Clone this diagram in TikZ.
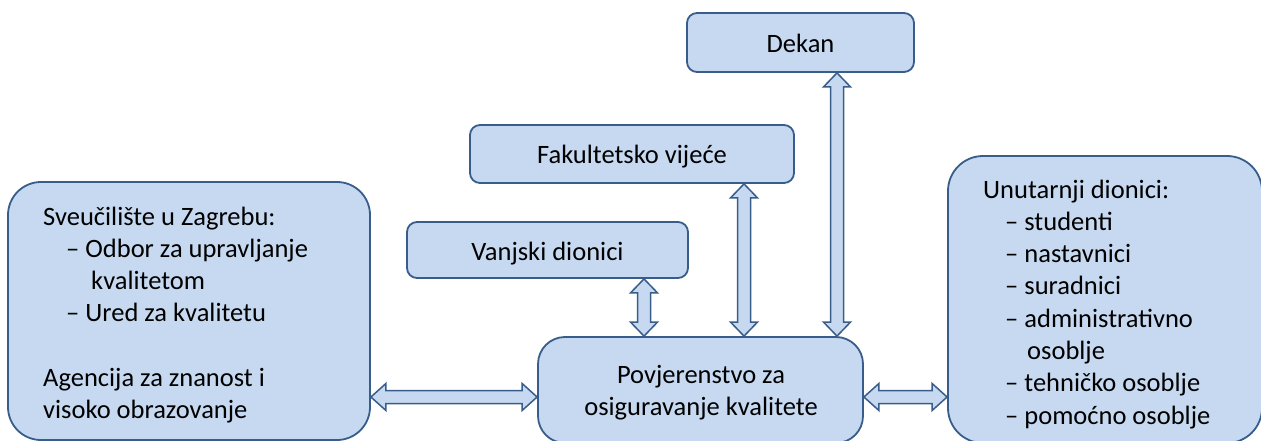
\documentclass[tikz,border=0pt]{standalone}
\usepackage{fontspec}
\setmainfont{Carlito}
\usetikzlibrary{calc}
\definecolor{bfill}{HTML}{C6D9F1}
\definecolor{bline}{HTML}{385D8A}
\tikzset{
  box/.style={draw=bline, fill=bfill, line width=1.8pt, inner sep=0pt, rounded corners=10pt},
  smallbox/.style={box, text height=20pt, text depth=0pt},
  blk/.style={draw=bline, fill=bfill, line width=1.5pt, line join=miter},
  txt/.style={inner sep=0pt, anchor=base west},
}
% vertical double block arrow: #1 upper tip, #2 lower tip
\newcommand\vblk[2]{\path[blk] let \p1=#1, \p2=#2 in
  (\x1,\y1) -- (\x1+13.5pt,\y1-14pt) -- (\x1+6.5pt,\y1-14pt) -- (\x1+6.5pt,\y2+14pt)
  -- (\x1+13.5pt,\y2+14pt) -- (\x1,\y2) -- (\x1-13.5pt,\y2+14pt) -- (\x1-6.5pt,\y2+14pt)
  -- (\x1-6.5pt,\y1-14pt) -- (\x1-13.5pt,\y1-14pt) -- cycle;}
% horizontal double block arrow: #1 left tip, #2 right tip
\newcommand\hblk[2]{\path[blk] let \p1=#1, \p2=#2 in
  (\x1,\y1) -- (\x1+15pt,\y1+13.5pt) -- (\x1+15pt,\y1+6.5pt) -- (\x2-15pt,\y1+6.5pt)
  -- (\x2-15pt,\y1+13.5pt) -- (\x2,\y1) -- (\x2-15pt,\y1-13.5pt) -- (\x2-15pt,\y1-6.5pt)
  -- (\x1+15pt,\y1-6.5pt) -- (\x1+15pt,\y1-13.5pt) -- cycle;}
\begin{document}
\begin{tikzpicture}[x=1pt,y=-1pt,font={\fontsize{26.5}{32.3}\selectfont}]
\useasboundingbox (0,0) rectangle (1261,441);
% boxes
\node[box, rounded corners=33pt, minimum width=362pt, minimum height=258pt] (lb) at (189,311) {};
\node[box, rounded corners=35pt, minimum width=314pt, minimum height=287pt] (rb) at (1105,299.5) {};
\node[box, rounded corners=27pt, minimum width=325pt, minimum height=106pt] (pv) at (700.5,390) {};
\node[smallbox, minimum width=227pt, minimum height=59pt] (dk) at (800.5,42.5) {Dekan};
\node[smallbox, minimum width=324pt, minimum height=58pt] (fv) at (632,154) {Fakultetsko vijeće};
\node[smallbox, minimum width=281pt, minimum height=56pt] (va) at (547.5,250) {Vanjski dionici};
% texts
\node[txt] (lt) at (43,225) {\begin{tabular}[t]{@{}l@{}}Sveučilište u Zagrebu:\\
\hspace*{23pt}– Odbor za upravljanje\\
\hspace*{48pt}kvalitetom\\
\hspace*{23pt}– Ured za kvalitetu\\
\\
Agencija za znanost i\\
visoko obrazovanje\end{tabular}};
\node[txt] (rt) at (983,198) {\begin{tabular}[t]{@{}l@{}}Unutarnji dionici:\\
\hspace*{22pt}– studenti\\
\hspace*{22pt}– nastavnici\\
\hspace*{22pt}– suradnici\\
\hspace*{22pt}– administrativno\\
\hspace*{44pt}osoblje\\
\hspace*{22pt}– tehničko osoblje\\
\hspace*{22pt}– pomoćno osoblje\end{tabular}};
\node[inner sep=0pt, anchor=base] (pt) at (701,383) {\begin{tabular}[t]{@{}c@{}}Povjerenstvo za\\
osiguravanje kvalitete\end{tabular}};
% connector guide coordinates
\coordinate (cva) at (644,0);
\coordinate (cfv) at (744,0);
\coordinate (cdk) at (837,0);
\coordinate (ch) at (0,397);
% connectors
\vblk{(va.south -| cva)}{(pv.north -| cva)}
\vblk{(fv.south -| cfv)}{(pv.north -| cfv)}
\vblk{(dk.south -| cdk)}{(pv.north -| cdk)}
\hblk{(lb.east |- ch)}{(pv.west |- ch)}
\hblk{(pv.east |- ch)}{(rb.west |- ch)}
\end{tikzpicture}
\end{document}
